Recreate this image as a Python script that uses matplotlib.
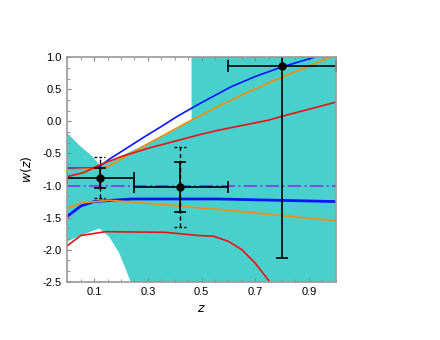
import numpy as np
import matplotlib
matplotlib.use("Agg")
import matplotlib.pyplot as plt
from matplotlib.ticker import MultipleLocator

plt.rcParams['font.family'] = ['Liberation Sans', 'DejaVu Sans']
plt.rcParams['font.size'] = 8

# shaded region boundaries
band_up_z = [0.0, 0.044, 0.094, 0.12, 0.15, 0.22, 0.28, 0.35, 0.40, 0.463, 0.463, 1.0]
band_up_w = [-0.18, -0.37, -0.55, -0.68, -0.65, -0.50, -0.38, -0.23, -0.13, 0.02, 1.05, 1.05]
band_lo_z = [0.0, 0.044, 0.081, 0.119, 0.156, 0.193, 0.236, 0.24, 1.0]
band_lo_w = [-1.87, -1.79, -1.73, -1.67, -1.80, -2.05, -2.5, -2.6, -2.6]

# upper / lower curves
blue_up_z = [0.0, 0.1, 0.12, 0.16, 0.22, 0.28, 0.35, 0.41, 0.49, 0.61, 0.70, 0.80, 0.92]
blue_up_w = [-0.73, -0.73, -0.70, -0.58, -0.42, -0.26, -0.08, 0.08, 0.27, 0.54, 0.70, 0.85, 1.0]
blue_lo_z = [0.0, 0.05, 0.1, 0.24, 0.56, 1.0]
blue_lo_w = [-1.48, -1.32, -1.25, -1.21, -1.21, -1.25]

orange_up_z = [0.0, 0.1, 0.15, 0.22, 0.30, 0.44, 0.56, 0.68, 0.80, 0.98]
orange_up_w = [-0.75, -0.74, -0.71, -0.54, -0.35, -0.03, 0.23, 0.47, 0.69, 1.0]
orange_lo_z = [0.0, 0.057, 0.156, 0.365, 0.49, 0.56, 0.80, 1.0]
orange_lo_w = [-1.35, -1.27, -1.23, -1.30, -1.35, -1.37, -1.47, -1.55]

red_up_z = [0.0, 0.06, 0.12, 0.2, 0.3, 0.49, 0.56, 0.75, 0.80, 1.0]
red_up_w = [-0.86, -0.80, -0.68, -0.55, -0.42, -0.21, -0.14, 0.02, 0.08, 0.30]
red_lo_z = [0.0, 0.05, 0.143, 0.365, 0.49, 0.544, 0.60, 0.65, 0.70, 0.75]
red_lo_w = [-1.94, -1.78, -1.72, -1.73, -1.78, -1.79, -1.87, -2.0, -2.21, -2.48]

# binned measurements
pt_z = [0.12, 0.42, 0.80]
pt_w = [-0.88, -1.02, 0.86]
pt_zlo = [0.0, 0.25, 0.60]
pt_zhi = [0.25, 0.60, 1.0]
pt_wlo = [-1.04, -1.41, -2.13]
pt_whi = [-0.73, -0.63, 1.3]
# wider (dashed) errors for first two bins
dash_wlo = [-1.19, -1.64]
dash_whi = [-0.555, -0.40]

fig = plt.figure(figsize=(4.4, 3.4), dpi=100)
ax = fig.add_axes([0.153, 0.1715, 0.61, 0.66])

poly_z = np.concatenate([band_up_z, band_lo_z[::-1]])
poly_w = np.concatenate([band_up_w, band_lo_w[::-1]])
ax.fill(poly_z, poly_w, color='#48D1CC', lw=0, zorder=1)

ax.plot(blue_up_z, blue_up_w, color='#0a14ff', lw=1.2, zorder=3)
ax.plot(blue_lo_z, blue_lo_w, color='#0a14ff', lw=2.0, zorder=3)
ax.plot(orange_up_z, orange_up_w, color='#FF8C00', lw=1.2, zorder=3)
ax.plot(orange_lo_z, orange_lo_w, color='#FF8C00', lw=1.2, zorder=3)
ax.plot(red_up_z, red_up_w, color='#EE1111', lw=1.2, zorder=3)
ax.plot(red_lo_z, red_lo_w, color='#EE1111', lw=1.2, zorder=3)

ax.axhline(-1.0, color='#7B4FE0', lw=1.5, ls='-.', zorder=4)

# dashed error bars
for z, lo, hi in zip(pt_z[:2], dash_wlo, dash_whi):
    ax.vlines(z, lo, hi, colors='black', lw=1.0, linestyles=(0, (3, 2)), zorder=5)
    ax.hlines([lo, hi], z - 0.022, z + 0.022, colors='black', lw=1.0,
              linestyles=(0, (2, 1.5)), zorder=5)

z = np.array(pt_z)
w = np.array(pt_w)
xerr = [z - np.array(pt_zlo), np.array(pt_zhi) - z]
yerr = [w - np.array(pt_wlo), np.array(pt_whi) - w]
ax.errorbar(z, w, xerr=xerr, yerr=yerr, fmt='o', color='black', ms=5,
            elinewidth=1.2, capsize=4.5, capthick=1.2, zorder=6)

ax.set_xlim(0, 1.0)
ax.set_ylim(-2.5, 1.0)
ax.set_xticks([0.1, 0.3, 0.5, 0.7, 0.9])
ax.xaxis.set_minor_locator(MultipleLocator(0.05))
ax.yaxis.set_major_locator(MultipleLocator(0.5))
ax.yaxis.set_minor_locator(MultipleLocator(0.5 / 3))
ax.yaxis.set_major_formatter(plt.FormatStrFormatter('%.1f'))
ax.tick_params(which='both', direction='in', top=True, right=False,
               color='#888888', labelsize=8, pad=4)
ax.tick_params(which='major', length=3)
ax.tick_params(which='minor', length=2)
for s in ax.spines.values():
    s.set_color('#999999')
    s.set_linewidth(1.2)
    s.set_zorder(7)

ax.set_xlabel('$z$', fontsize=9, labelpad=4)
ax.set_ylabel('$w(z)$', fontsize=9, labelpad=6)

fig.savefig('out.png', dpi=100)
